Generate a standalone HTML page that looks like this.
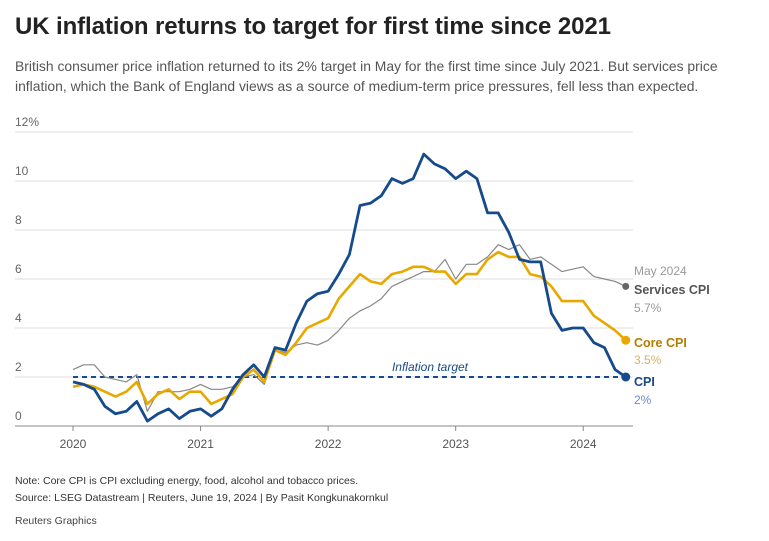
<!DOCTYPE html>
<html><head><meta charset="utf-8"><style>
body{margin:0;width:769px;height:541px;background:#fff;font-family:"Liberation Sans",sans-serif;overflow:hidden;position:relative}
.t{position:absolute;left:15px;top:13px;font-size:24px;font-weight:bold;color:#222;letter-spacing:-0.1px}
.s{position:absolute;left:15px;top:56px;font-size:13.9px;line-height:20px;color:#555;width:740px}
.f{position:absolute;left:15px;font-size:10.5px;color:#333}
</style></head><body>
<div class="t">UK inflation returns to target for first time since 2021</div>
<div class="s">British consumer price inflation returned to its 2% target in May for the first time since July 2021. But services price<br>inflation, which the Bank of England views as a source of medium-term price pressures, fell less than expected.</div>
<svg id="c" width="769" height="541" style="position:absolute;left:0;top:0" font-family="Liberation Sans, sans-serif"></svg>
<div class="f" style="top:475px">Note: Core CPI is CPI excluding energy, food, alcohol and tobacco prices.</div>
<div class="f" style="top:492px">Source: LSEG Datastream | Reuters, June 19, 2024 | By Pasit Kongkunakornkul</div>
<div class="f" style="top:515px;color:#444">Reuters Graphics</div>
<script>
const cpi=[1.8,1.7,1.5,0.8,0.5,0.6,1.0,0.2,0.5,0.7,0.3,0.6,0.7,0.4,0.7,1.5,2.1,2.5,2.0,3.2,3.1,4.2,5.1,5.4,5.5,6.2,7.0,9.0,9.1,9.4,10.1,9.9,10.1,11.1,10.7,10.5,10.1,10.4,10.1,8.7,8.7,7.9,6.8,6.7,6.7,4.6,3.9,4.0,4.0,3.4,3.2,2.3,2.0];
const core=[1.6,1.7,1.6,1.4,1.2,1.4,1.8,0.9,1.3,1.5,1.1,1.4,1.4,0.9,1.1,1.3,2.0,2.3,1.8,3.1,2.9,3.4,4.0,4.2,4.4,5.2,5.7,6.2,5.9,5.8,6.2,6.3,6.5,6.5,6.3,6.3,5.8,6.2,6.2,6.8,7.1,6.9,6.9,6.2,6.1,5.7,5.1,5.1,5.1,4.5,4.2,3.9,3.5];
const serv=[2.3,2.5,2.5,2.0,1.9,1.8,2.1,0.6,1.4,1.4,1.4,1.5,1.7,1.5,1.5,1.6,2.0,2.1,1.7,3.1,3.0,3.3,3.4,3.3,3.5,3.9,4.4,4.7,4.9,5.2,5.7,5.9,6.1,6.3,6.3,6.8,6.0,6.6,6.6,6.9,7.4,7.2,7.4,6.8,6.9,6.6,6.3,6.4,6.5,6.1,6.0,5.9,5.7];
const X=i=>73+i*10.63, Y=v=>426-24.5*v;
let h='';
for(let v=2;v<=12;v+=2){h+=`<line x1="15" x2="633" y1="${Y(v)}" y2="${Y(v)}" stroke="#ddd" stroke-width="1"/>`;
h+=`<text x="15" y="${Y(v)-6}" font-size="12" fill="#666">${v==12?'12%':v}</text>`;}
h+=`<text x="15" y="${Y(0)-6}" font-size="12" fill="#666">0</text>`;
h+=`<line x1="15" x2="633" y1="426" y2="426" stroke="#888" stroke-width="1"/>`;
[2020,2021,2022,2023,2024].forEach((yr,k)=>{const x=X(k*12);h+=`<line x1="${x}" x2="${x}" y1="426" y2="431" stroke="#888"/><text x="${x}" y="448" font-size="12" fill="#555" text-anchor="middle">${yr}</text>`});
const pl=(d,c,w)=>`<polyline fill="none" stroke="${c}" stroke-width="${w}" stroke-linejoin="round" points="${d.map((v,i)=>X(i).toFixed(1)+','+Y(v).toFixed(1)).join(' ')}"/>`;
h+=`<line x1="73" x2="625" y1="${Y(2)}" y2="${Y(2)}" stroke="#1a4a8a" stroke-width="2" stroke-dasharray="5,4"/>`;
h+=`<text x="430" y="371" font-size="12" font-style="italic" fill="#1a4a8a" text-anchor="middle">Inflation target</text>`;
h+=pl(serv,'#888',1.2)+pl(core,'#e8a800',2.6)+pl(cpi,'#154a8c',2.8);
const ex=X(52);
h+=`<circle cx="${ex}" cy="${Y(5.7)}" r="3.5" fill="#666"/><circle cx="${ex}" cy="${Y(3.5)}" r="4.5" fill="#e8a800"/><circle cx="${ex}" cy="${Y(2)}" r="4.5" fill="#154a8c"/>`;
h+=`<text x="634" y="275" font-size="12" fill="#999">May 2024</text>`;
h+=`<text x="634" y="294" font-size="12.5" font-weight="bold" fill="#555">Services CPI</text><text x="634" y="312" font-size="12" fill="#999">5.7%</text>`;
h+=`<text x="634" y="347" font-size="12.5" font-weight="bold" fill="#b07d00">Core CPI</text><text x="634" y="364" font-size="12" fill="#d9b060">3.5%</text>`;
h+=`<text x="634" y="386" font-size="12.5" font-weight="bold" fill="#154a8c">CPI</text><text x="634" y="404" font-size="12" fill="#6a8cc8">2%</text>`;
document.getElementById('c').innerHTML=h;
</script>
</body></html>
